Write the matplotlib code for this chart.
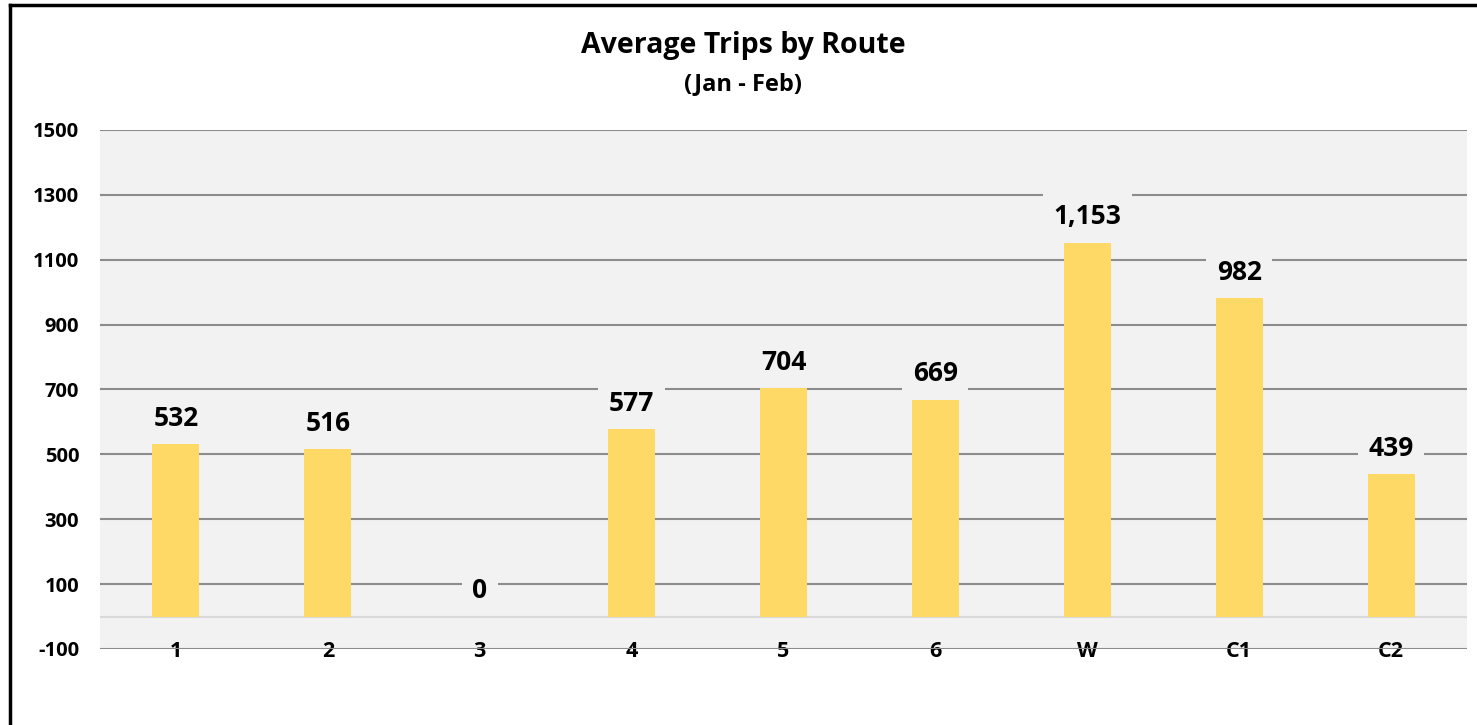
import matplotlib.pyplot as plt
from matplotlib.lines import Line2D

routes = ['1', '2', '3', '4', '5', '6', 'W', 'C1', 'C2']
avg_trips = [532, 516, 0, 577, 704, 669, 1153, 982, 439]
y_ticks = [-100, 100, 300, 500, 700, 900, 1100, 1300, 1500]

plt.rcParams['font.family'] = ['Open Sans', 'DejaVu Sans']
plt.rcParams['font.weight'] = 'bold'

W, H = 1477, 725
fig = plt.figure(figsize=(W / 100, H / 100), dpi=100)
ax = fig.add_axes([100 / W, 1 - 649 / H, 1367 / W, 519 / H])
ax.set_facecolor('#F2F2F2')

x = range(len(routes))
ax.bar(x, avg_trips, width=0.31, color='#FFD966', zorder=3)

ax.set_xlim(-0.5, len(routes) - 0.5)
ax.set_ylim(-100, 1500)
ax.set_yticks(y_ticks)
ax.set_yticklabels([str(v) for v in y_ticks], fontsize=14.5, fontweight='bold')
ax.yaxis.grid(True, color='#8C8C8C', linewidth=1.5, zorder=1)
ax.axhline(0, color='#D9D9D9', linewidth=1.5, zorder=2)
ax.set_axisbelow(True)

ax.set_xticks(list(x))
ax.set_xticklabels(routes, fontsize=15.5, fontweight='bold')
ax.tick_params(axis='x', length=0, pad=-6)
ax.tick_params(axis='y', length=0, pad=15)
for sp in ax.spines.values():
    sp.set_visible(False)

# value labels sit on a box in the plot colour so they break the gridlines
for i, v in enumerate(avg_trips):
    ax.annotate(f'{v:,}', (i, v), xytext=(0, 18.5), textcoords='offset points',
                ha='center', va='center', fontsize=19, fontweight='bold',
                zorder=5,
                bbox=dict(boxstyle='square,pad=0.4', facecolor='#F2F2F2',
                          edgecolor='none'))

fig.text(0.5 * (1 + 9.5 / W), 1 - 46 / H, 'Average Trips by Route',
         ha='center', va='center', fontsize=20.5, fontweight='bold')
fig.text(0.5 * (1 + 9.5 / W), 1 - 84 / H, '(Jan - Feb)',
         ha='center', va='center', fontsize=17, fontweight='bold')

# frame (cropped on right and bottom)
fig.add_artist(Line2D([9.5 / W, 1], [1 - 5 / H, 1 - 5 / H], color='black',
                      linewidth=2.5, transform=fig.transFigure))
fig.add_artist(Line2D([9.5 / W, 9.5 / W], [0, 1 - 5 / H], color='black',
                      linewidth=2.5, transform=fig.transFigure))

fig.savefig('out.png', dpi=100)
